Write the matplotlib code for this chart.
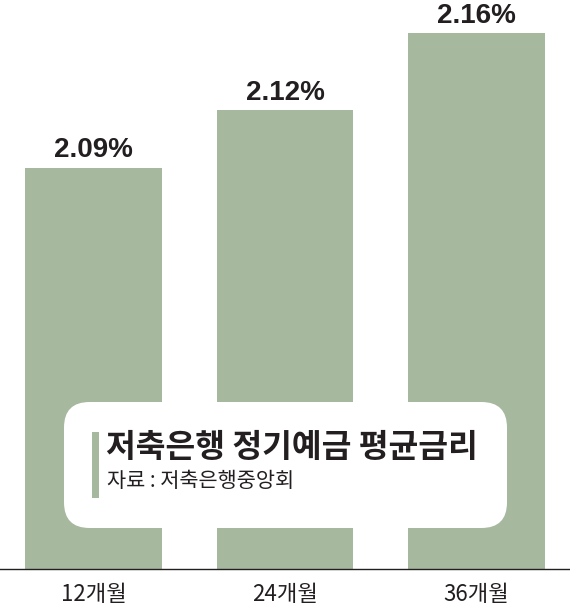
import matplotlib
matplotlib.use("Agg")
import matplotlib.pyplot as plt
from matplotlib.patches import FancyBboxPatch

# --- data ---
periods = ["12개월", "24개월", "36개월"]
rates = [2.09, 2.12, 2.16]
value_labels = ["2.09%", "2.12%", "2.16%"]
title = "저축은행 정기예금 평균금리"
source = "자료 : 저축은행중앙회"

BAR = "#a6b99f"
INK = "#231f20"
KR = ["Noto Sans CJK KR", "DejaVu Sans"]
NUM = ["Liberation Sans", "DejaVu Sans"]

W, H = 570, 608
BASE_PX = 569
fig = plt.figure(figsize=(W / 100, H / 100), dpi=100)
ax = fig.add_axes([0, (H - BASE_PX) / H, 1, BASE_PX / H])

base = 1.8814
x = range(len(periods))
bars = ax.bar(x, [r - base for r in rates], bottom=base, width=0.715, color=BAR)
ax.set_xlim(-0.49, 2.49)
ax.set_ylim(base, 2.1772)

for b, lab in zip(bars, value_labels):
    ax.annotate(lab, (b.get_x() + b.get_width() / 2, b.get_y() + b.get_height()),
                xytext=(0, 7.5), textcoords="offset points", ha="center", va="baseline",
                fontsize=20, fontweight="bold", family=NUM, color=INK)

ax.set_xticks(list(x))
ax.set_xticklabels(periods, family=KR, fontsize=16, color=INK)
ax.tick_params(axis="x", length=0, pad=10)
ax.set_yticks([])
for s in ("top", "left", "right"):
    ax.spines[s].set_visible(False)
ax.spines["bottom"].set_color(INK)
ax.spines["bottom"].set_linewidth(1.0)

# --- caption box ---
def fx(px): return px / W
def fy(py): return 1 - py / H

box = FancyBboxPatch((fx(64), fy(528)), fx(507) - fx(64), fy(402) - fy(528),
                     boxstyle="round,pad=0,rounding_size=0.045",
                     transform=fig.transFigure, facecolor="white", edgecolor="none",
                     mutation_aspect=W / H)
fig.patches.append(box)
fig.patches.append(plt.Rectangle((fx(92), fy(498)), fx(99) - fx(92), fy(432) - fy(498),
                                 transform=fig.transFigure, facecolor=BAR, edgecolor="none"))
fig.text(fx(106), fy(448), title, family=KR, fontsize=23.3, fontweight="bold",
         color=INK, va="center", ha="left")
fig.text(fx(107), fy(481), source, family=KR, fontsize=15, color=INK,
         va="center", ha="left")

fig.savefig("out.png", dpi=100)
